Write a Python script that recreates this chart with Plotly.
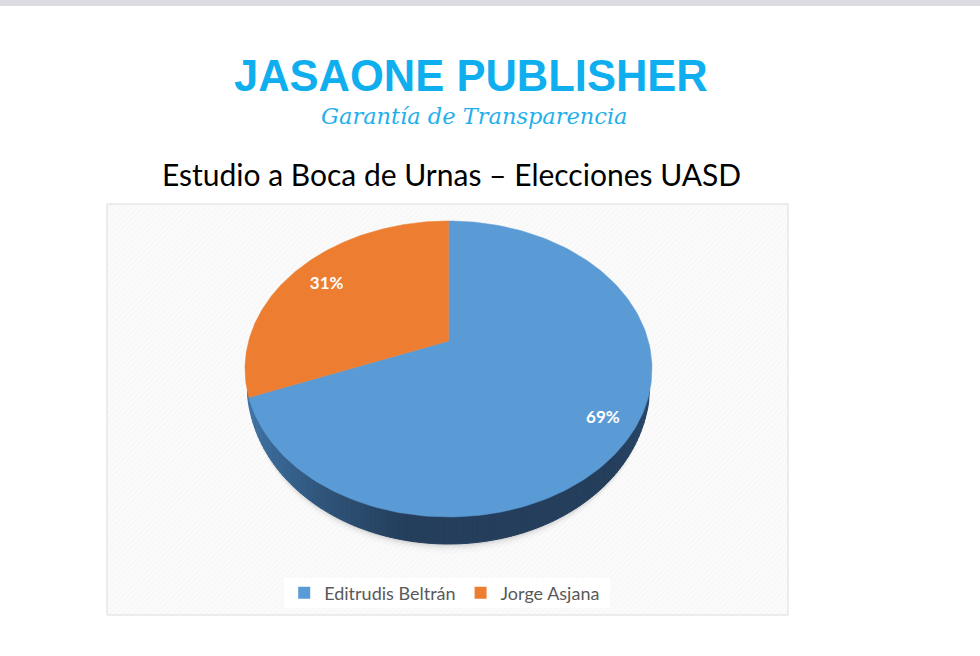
import numpy as np
import plotly.graph_objects as go

# Data
candidates = ["Editrudis Beltrán", "Jorge Asjana"]
shares = [69, 31]
labels = ["69%", "31%"]
colors = ["#5B9BD5", "#ED7D31"]
brand = "JASAONE PUBLISHER"
tagline = "Garantía de Transparencia"
heading = "Estudio a Boca de Urnas – Elecciones UASD"

# Projection of the tilted pie disc (page-pixel axes)
CX, APEX_Y, TOP, BOTTOM, RX, DEPTH, WALL_START = 448.5, 341.0, 221.0, 517.0, 203.5, 27.0, 392.0
D = (2 * APEX_Y - TOP - BOTTOM) / (BOTTOM - TOP)
A = BOTTOM * (1 + D) - APEX_Y
AX = RX * np.sqrt(1 - D ** 2)


def project(turn, r=1.0):
    """turn: fraction of a full circle clockwise from 12 o'clock."""
    t = 2 * np.pi * np.asarray(turn)
    u, v = r * np.sin(t), -r * np.cos(t)
    w = 1 + D * v
    return CX + AX * u / w, (A * v + APEX_Y) / w


fig = go.Figure()

# Panel
PX0, PX1, PY0, PY1 = 107, 788, 204, 615
fig.add_trace(go.Scatter(
    x=[PX0, PX1, PX1, PX0, PX0], y=[PY0, PY0, PY1, PY1, PY0], mode="lines",
    fill="toself", fillcolor="#fafafa",
    fillpattern=dict(shape="/", fgcolor="#f3f3f3", bgcolor="#fbfbfb", size=4, solidity=0.4),
    line=dict(color="#dcdcdc", width=1), hoverinfo="skip", showlegend=False))

# White plate behind the legend
LX0, LX1, LY0, LY1 = 284, 610, 578, 608
fig.add_trace(go.Scatter(
    x=[LX0, LX1, LX1, LX0, LX0], y=[LY0, LY0, LY1, LY1, LY0], mode="lines",
    fill="toself", fillcolor="white", line=dict(width=0),
    hoverinfo="skip", showlegend=False))


def wall_color(f):
    stops = [(0.0, (66, 118, 168)), (0.06, (58, 104, 150)), (0.18, (48, 86, 124)),
             (0.32, (40, 70, 102)), (0.40, (36, 62, 92)), (0.90, (36, 62, 92)), (1.0, (42, 72, 104))]
    for (f0, c0), (f1, c1) in zip(stops, stops[1:]):
        if f <= f1:
            k = (f - f0) / (f1 - f0)
            return "rgb(%d,%d,%d)" % tuple(c0[i] + k * (c1[i] - c0[i]) for i in range(3))
    return "rgb(42,72,104)"


# Side wall of the disc, tapering towards both ends
edges = np.linspace(0.2, 0.8, 161)
ex, ey = project(edges)
keep = ey >= WALL_START
ex, ey = ex[keep], ey[keep]
depth = DEPTH * ((ey - WALL_START) / (BOTTOM - WALL_START)) ** 0.4
lo, hi = ex.min(), ex.max()

# Soft shadow under the wall
for off, alpha in [(9, 0.015), (6, 0.025), (4, 0.04), (2, 0.06)]:
    fig.add_trace(go.Scatter(
        x=np.concatenate([ex, ex[::-1]]),
        y=np.concatenate([ey, (ey + depth + off * (depth / DEPTH))[::-1]]),
        mode="lines", fill="toself", fillcolor=f"rgba(0,0,0,{alpha})", line=dict(width=0),
        hoverinfo="skip", showlegend=False))

for i in range(len(ex) - 1):
    px = [ex[i], ex[i + 1], ex[i + 1], ex[i], ex[i]]
    py = [ey[i] - 2, ey[i + 1] - 2, ey[i + 1] + depth[i + 1], ey[i] + depth[i], ey[i] - 2]
    col = wall_color(((ex[i] + ex[i + 1]) / 2 - lo) / (hi - lo))
    fig.add_trace(go.Scatter(
        x=px, y=py, mode="lines", fill="toself", fillcolor=col,
        line=dict(color=col, width=1), hoverinfo="skip", showlegend=False))

# Slices, from the shares
fractions = np.array(shares, dtype=float) / sum(shares)
starts = np.concatenate([[0], np.cumsum(fractions)[:-1]])
label_r = [0.85, 0.80]
LABEL_DY = 3
for name, frac, start, col, lab, lr in zip(candidates, fractions, starts, colors, labels, label_r):
    turns = np.linspace(start, start + frac, 180)
    bx, by = project(turns)
    ax0, ay0 = project(0.0, 0.0)
    fig.add_trace(go.Scatter(
        x=np.concatenate([[ax0], bx, [ax0]]), y=np.concatenate([[ay0], by, [ay0]]),
        mode="lines", fill="toself", fillcolor=col, line=dict(color=col, width=0.5),
        name=name, legendgroup=name, showlegend=False, hoverinfo="name"))
    tx, ty = project(start + frac / 2, lr)
    fig.add_trace(go.Scatter(
        x=[tx], y=[ty + LABEL_DY], mode="text", text=[lab],
        textfont=dict(family="Lato", size=17, color="white", weight="bold"),
        hoverinfo="skip", showlegend=False))

# Legend entries
for name, col in zip(candidates, colors):
    fig.add_trace(go.Scatter(
        x=[None], y=[None], mode="markers", name=name, legendgroup=name,
        marker=dict(symbol="square", size=12, color=col)))

fig.update_layout(
    width=980, height=656, autosize=False,
    margin=dict(l=0, r=0, t=0, b=0),
    paper_bgcolor="white", plot_bgcolor="white",
    xaxis=dict(range=[0, 980], visible=False, fixedrange=True),
    yaxis=dict(range=[656, 0], visible=False, fixedrange=True),
    legend=dict(orientation="h", x=0.29, y=0.096, xref="paper", yref="paper",
                xanchor="left", yanchor="middle", bgcolor="rgba(255,255,255,0)",
                font=dict(family="Lato", size=18, color="#595959")),
    shapes=[dict(type="rect", xref="x", yref="y", x0=0, x1=980, y0=0, y1=6,
                 fillcolor="#dcdce2", line=dict(width=0), layer="above")],
    annotations=[
        dict(x=471, y=76, xref="x", yref="y", text=brand, showarrow=False,
             font=dict(family="Liberation Sans", size=43.5, color="#0FAFEF", weight="bold")),
        dict(x=474, y=116, xref="x", yref="y", text=tagline, showarrow=False,
             font=dict(family="DejaVu Serif", size=22.5, color="#1FB0EC", style="italic")),
        dict(x=451, y=174, xref="x", yref="y", text=heading, showarrow=False,
             font=dict(family="Lato", size=30, color="#000000")),
    ],
)

fig.write_html("out.html", config=dict(displayModeBar=False),
               post_script="document.body.style.margin='0';")
